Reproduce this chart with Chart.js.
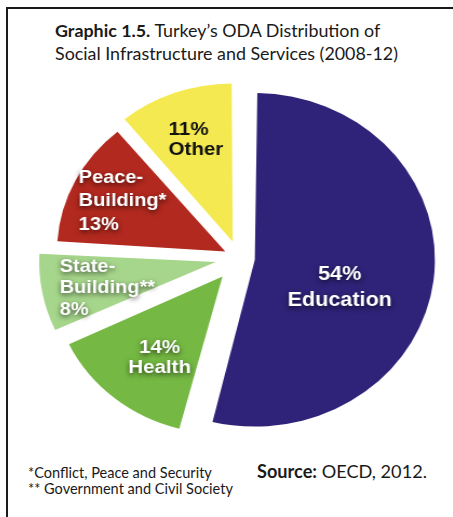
<!DOCTYPE html>
<html><head><meta charset="utf-8">
<script src="https://cdn.jsdelivr.net/npm/chart.js@4.4.1/dist/chart.umd.min.js"></script>
<style>
html,body{margin:0;padding:0;background:#fff;}
body{width:453px;height:517px;position:relative;overflow:hidden;font-family:Lato,"Open Sans",sans-serif;}
#frame{position:absolute;left:6px;top:7px;width:460px;height:520px;border-top:2px solid #1a1a1a;border-left:2px solid #1a1a1a;}
.txt{position:absolute;white-space:nowrap;color:#1a1a1a;}
#title{left:55px;top:19px;font-size:16.5px;line-height:23px;}
#wrap{position:absolute;left:39.3px;top:58.2px;width:400px;height:400px;transform:scaleX(1.08);transform-origin:200px 200px;}
#foot{left:28px;top:465px;font-size:14.5px;line-height:16px;}
#source{left:257px;top:461px;font-size:17.5px;line-height:20px;}
</style></head>
<body>
<div id="frame"></div>
<div id="title" class="txt" data-w="343"><b>Graphic 1.5.</b> Turkey’s ODA Distribution of<br>Social Infrastructure and Services (2008-12)</div>
<div id="wrap"><canvas id="c" width="400" height="400"></canvas></div>
<div id="foot" class="txt" data-w="205">*Conflict, Peace and Security<br>** Government and Civil Society</div>
<div id="source" class="txt" data-w="170"><b>Source:</b> OECD, 2012.</div>
<script>
const categories = ['Education', 'Health', 'State-Building', 'Peace-Building', 'Other'];
const shares = [54, 14, 8, 13, 11];
const nameLines = [['Education'], ['Health'], ['State-', 'Building**'], ['Peace-', 'Building*'], ['Other']];
const percentFirst = [true, true, false, false, true];

const sliceColors = ['#2e2378', '#75b843', '#a6d68b', '#b2291f', '#f4e950'];
const sliceOffsets = [59, 96, 88, 57, 69];
const labelPlace = [
  {ang: 109.6, rf: 0.549, align: 'center', size: 20, lh: 26, color: '#fff', shadow: true},
  {ang: 215.6, rf: 0.658, align: 'center', size: 19, lh: 20, color: '#fff', shadow: true},
  {ang: 259.7, rf: 0.966, align: 'left', size: 18.5, lh: 21.5, color: '#fff', shadow: true},
  {ang: 290.3, rf: 0.952, align: 'left', size: 18.5, lh: 23.5, color: '#fff', shadow: true},
  {ang: 329.8, rf: 0.776, align: 'left', size: 19, lh: 20, color: '#111', shadow: false}
];

// fit text blocks to the widths measured on the reference
document.querySelectorAll('.txt').forEach(el => {
  const target = parseFloat(el.dataset.w);
  const fs = parseFloat(getComputedStyle(el).fontSize);
  const w = el.getBoundingClientRect().width;
  if (w > 0) el.style.fontSize = (fs * target / w).toFixed(2) + 'px';
});

const labelPlugin = {
  id: 'sliceLabels',
  afterDatasetsDraw(chart) {
    const ctx = chart.ctx;
    const meta = chart.getDatasetMeta(0);
    meta.data.forEach((arc, i) => {
      const p = arc.getProps(['x', 'y', 'startAngle', 'endAngle', 'outerRadius'], true);
      const t = (arc.options.offset || 0) / 4;
      const mid = (p.startAngle + p.endAngle) / 2;
      const cx = p.x + Math.cos(mid) * t, cy = p.y + Math.sin(mid) * t;
      const L = labelPlace[i];
      const a = (L.ang - 90) * Math.PI / 180;
      const ax = cx + Math.cos(a) * L.rf * p.outerRadius;
      const ay = cy + Math.sin(a) * L.rf * p.outerRadius;
      const pct = shares[i] + '%';
      const lines = percentFirst[i] ? [pct, ...nameLines[i]] : [...nameLines[i], pct];
      ctx.save();
      ctx.font = 'bold ' + L.size + 'px "Liberation Sans", Arial, sans-serif';
      ctx.textAlign = L.align;
      ctx.textBaseline = 'middle';
      ctx.fillStyle = L.color;
      if (L.shadow) {
        ctx.shadowColor = 'rgba(0,0,0,0.65)';
        ctx.shadowBlur = 5;
        ctx.shadowOffsetY = 2;
      }
      const y0 = ay - (lines.length - 1) * L.lh / 2;
      lines.forEach((s, k) => ctx.fillText(s, ax, y0 + k * L.lh));
      ctx.restore();
    });
  }
};

new Chart(document.getElementById('c'), {
  type: 'pie',
  data: {
    labels: categories,
    datasets: [{
      data: shares,
      backgroundColor: sliceColors,
      borderWidth: 0,
      offset: sliceOffsets,
      hoverOffset: 0
    }]
  },
  options: {
    responsive: false,
    animation: false,
    events: [],
    radius: 152,
    layout: {padding: 0},
    plugins: {legend: {display: false}, tooltip: {enabled: false}}
  },
  plugins: [labelPlugin]
});
</script>
</body></html>
